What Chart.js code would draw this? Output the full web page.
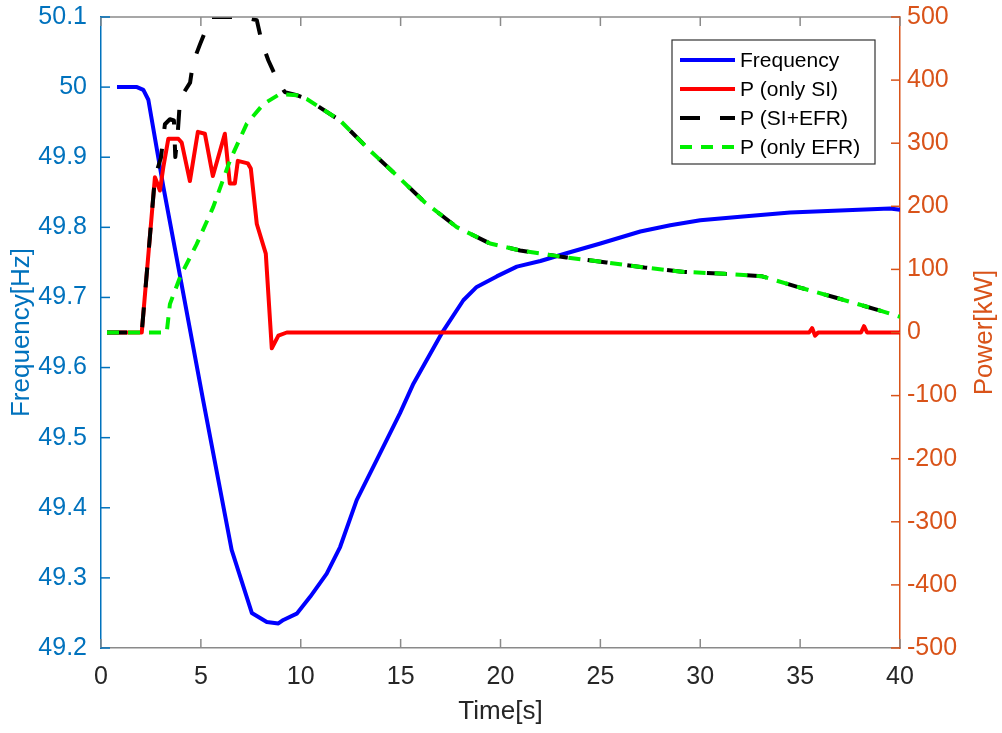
<!DOCTYPE html>
<html>
<head>
<meta charset="utf-8">
<script src="https://cdn.jsdelivr.net/npm/chart.js@4.4.1/dist/chart.umd.min.js"></script>
<style>
  html, body { margin: 0; padding: 0; background: #fff; }
  #wrap { width: 1002px; height: 733px; }
</style>
</head>
<body>
<div id="wrap"><canvas id="chart" width="1002" height="733"></canvas></div>
<script>
// values
const freqTime = [0.8, 1.8, 2.12, 2.37, 3.12, 3.96, 5.11, 6.54, 7.55, 8.3, 8.88, 9.13, 9.8, 10.47, 11.3, 11.97, 12.8, 13.8, 14.97, 15.64, 17.06, 18.14, 18.81, 19.81, 20.82, 22.0, 23.3, 25.0, 27.0, 28.5, 30.0, 32.0, 34.5, 37.0, 39.5, 40];
const freqHz = [50.0, 50.0, 49.996, 49.982, 49.858, 49.73, 49.554, 49.34, 49.25, 49.237, 49.235, 49.24, 49.249, 49.273, 49.306, 49.344, 49.411, 49.468, 49.535, 49.577, 49.649, 49.696, 49.715, 49.73, 49.744, 49.752, 49.763, 49.777, 49.794, 49.803, 49.81, 49.815, 49.821, 49.824, 49.827, 49.825];

const siTime = [0.3, 2.04, 2.7, 2.95, 3.12, 3.37, 3.87, 4.04, 4.45, 4.85, 5.2, 5.6, 6.2, 6.45, 6.7, 6.85, 7.35, 7.5, 7.8, 8.25, 8.55, 8.88, 9.3, 35.45, 35.6, 35.75, 35.9, 38.05, 38.2, 38.35, 40];
const siPower = [0, 0, 246, 225, 262, 307, 307, 301, 240, 318, 315, 248, 315, 236, 236, 272, 268, 260, 172, 125, -25, -5, 0, 0, 7, -5, 0, 0, 10, 0, 0];

const sieTime = [0.3, 2.04, 2.7, 3.0, 3.2, 3.45, 3.65, 3.72, 3.85, 3.96, 4.46, 4.61, 4.96, 5.37, 5.54, 7.05, 7.8, 8.05, 8.38, 8.8, 9.2, 9.8, 10.3, 11.97, 13.38, 14.8, 16.22, 17.81, 19.48, 20.98, 23.3, 25.3, 27.2, 29.2, 31.2, 33.1, 34.9, 36.8, 38.7, 40];
const siePower = [0, 0, 246, 277, 330, 338, 336, 278, 320, 371, 396, 428, 457, 489, 500, 500, 495, 460, 431, 402, 381, 376, 370, 336, 291, 249, 206, 167, 141, 130, 119, 111, 103, 96, 93, 89, 72, 55, 37.5, 25];

const efrTime = [0.3, 3.29, 3.45, 3.96, 4.79, 5.62, 6.46, 7.3, 8.13, 8.96, 9.8, 10.3, 11.97, 13.38, 14.8, 16.22, 17.81, 19.48, 20.98, 23.3, 25.3, 27.2, 29.2, 31.2, 33.1, 34.9, 36.8, 38.7, 40];
const efrPower = [0, 0, 45, 88, 140, 199, 273, 331, 362, 378, 376, 370, 336, 291, 249, 206, 167, 141, 130, 119, 111, 103, 96, 93, 89, 72, 55, 37.5, 25];

const seriesNames = ['Frequency', 'P (only SI)', 'P (SI+EFR)', 'P (only EFR)'];

const FONT = "'Liberation Sans', Arial, sans-serif";
const BLUE_AX = '#0072BD';
const ORANGE_AX = '#D95319';

function toXY(ts, vs) {
  return ts.map((t, i) => ({ x: t, y: vs[i] }));
}

// fixed axis box sizes, no extra room for label overflow
function fitY(width) {
  return s => {
    s.width = width;
    s.paddingTop = 0;
    s.paddingBottom = 0;
  };
}

// inward ticks, top border, axis titles and the boxed legend
const axisExtras = {
  id: 'axisExtras',
  afterDraw(chart) {
    const { ctx, chartArea: a, scales } = chart;
    const seg = (x1, y1, x2, y2) => {
      ctx.beginPath(); ctx.moveTo(x1, y1); ctx.lineTo(x2, y2); ctx.stroke();
    };
    ctx.save();
    ctx.lineWidth = 1.5;
    ctx.strokeStyle = '#8a8a8a';
    seg(a.left, a.top, a.right, a.top);
    scales.x.ticks.forEach(t => {
      const px = scales.x.getPixelForValue(t.value);
      seg(px, a.bottom, px, a.bottom - 9);
      seg(px, a.top, px, a.top + 9);
    });
    ctx.strokeStyle = BLUE_AX;
    scales.y.ticks.forEach(t => {
      const py = scales.y.getPixelForValue(t.value);
      seg(a.left, py, a.left + 9, py);
    });
    ctx.strokeStyle = ORANGE_AX;
    scales.y1.ticks.forEach(t => {
      const py = scales.y1.getPixelForValue(t.value);
      seg(a.right, py, a.right - 9, py);
    });

    // axis titles
    const midY = (a.top + a.bottom) / 2;
    ctx.font = '26px ' + FONT;
    ctx.textAlign = 'center';
    ctx.textBaseline = 'middle';
    ctx.fillStyle = '#262626';
    ctx.fillText('Time[s]', (a.left + a.right) / 2, a.bottom + 64);
    ctx.save();
    ctx.translate(22, midY);
    ctx.rotate(-Math.PI / 2);
    ctx.fillStyle = BLUE_AX;
    ctx.fillText('Frequency[Hz]', 0, 0);
    ctx.restore();
    ctx.save();
    ctx.translate(985, midY);
    ctx.rotate(-Math.PI / 2);
    ctx.fillStyle = ORANGE_AX;
    ctx.fillText('Power[kW]', 0, 0);
    ctx.restore();

    // legend
    const bx = a.right - 228, by = a.top + 23, bw = 203, bh = 124;
    ctx.fillStyle = '#fff';
    ctx.fillRect(bx, by, bw, bh);
    ctx.lineWidth = 1.2;
    ctx.strokeStyle = '#333';
    ctx.strokeRect(bx, by, bw, bh);
    ctx.font = '21px ' + FONT;
    ctx.textAlign = 'left';
    chart.data.datasets.forEach((ds, i) => {
      const ry = by + 20 + i * 29;
      ctx.strokeStyle = ds.borderColor;
      ctx.lineWidth = 4;
      ctx.setLineDash(ds.borderDash || []);
      seg(bx + 8, ry, bx + 63, ry);
      ctx.setLineDash([]);
      ctx.fillStyle = '#000';
      ctx.fillText(ds.label, bx + 68, ry + 1);
    });
    ctx.restore();
  }
};

const ctx = document.getElementById('chart').getContext('2d');

new Chart(ctx, {
  type: 'line',
  data: {
    datasets: [
      {
        label: seriesNames[0],
        data: toXY(freqTime, freqHz),
        yAxisID: 'y',
        borderColor: '#0000ff',
        borderWidth: 4,
        order: 3
      },
      {
        label: seriesNames[1],
        data: toXY(siTime, siPower),
        yAxisID: 'y1',
        borderColor: '#ff0000',
        borderWidth: 4,
        order: 2
      },
      {
        label: seriesNames[2],
        data: toXY(sieTime, siePower),
        yAxisID: 'y1',
        borderColor: '#000000',
        borderWidth: 4,
        borderDash: [20, 20],
        order: 1
      },
      {
        label: seriesNames[3],
        data: toXY(efrTime, efrPower),
        yAxisID: 'y1',
        borderColor: '#00f000',
        borderWidth: 4,
        borderDash: [12, 9],
        order: 0
      }
    ]
  },
  options: {
    responsive: false,
    animation: false,
    devicePixelRatio: 1,
    layout: { padding: { top: 17, left: 0, right: 0, bottom: 0 } },
    elements: {
      point: { radius: 0 },
      line: { tension: 0, borderJoinStyle: 'round', borderCapStyle: 'butt', fill: false }
    },
    plugins: {
      legend: { display: false },
      tooltip: { enabled: false }
    },
    scales: {
      x: {
        type: 'linear',
        min: 0,
        max: 40,
        ticks: {
          stepSize: 5,
          padding: 14,
          maxRotation: 0,
          color: '#262626',
          font: { family: FONT, size: 25 }
        },
        grid: { display: false, drawTicks: false },
        border: { color: '#8a8a8a', width: 1.5 },
        afterFit: s => { s.height = 85; }
      },
      y: {
        position: 'left',
        min: 49.2,
        max: 50.1,
        ticks: {
          stepSize: 0.1,
          padding: 14,
          color: BLUE_AX,
          font: { family: FONT, size: 25 },
          callback: v => String(Math.round(v * 10) / 10)
        },
        grid: { display: false, drawTicks: false },
        border: { color: BLUE_AX, width: 1.5 },
        afterFit: fitY(101)
      },
      y1: {
        position: 'right',
        min: -500,
        max: 500,
        ticks: {
          stepSize: 100,
          padding: 7,
          color: ORANGE_AX,
          font: { family: FONT, size: 25 }
        },
        grid: { display: false, drawTicks: false },
        border: { color: ORANGE_AX, width: 1.5 },
        afterFit: fitY(102)
      }
    }
  },
  plugins: [axisExtras]
});
</script>
</body>
</html>
